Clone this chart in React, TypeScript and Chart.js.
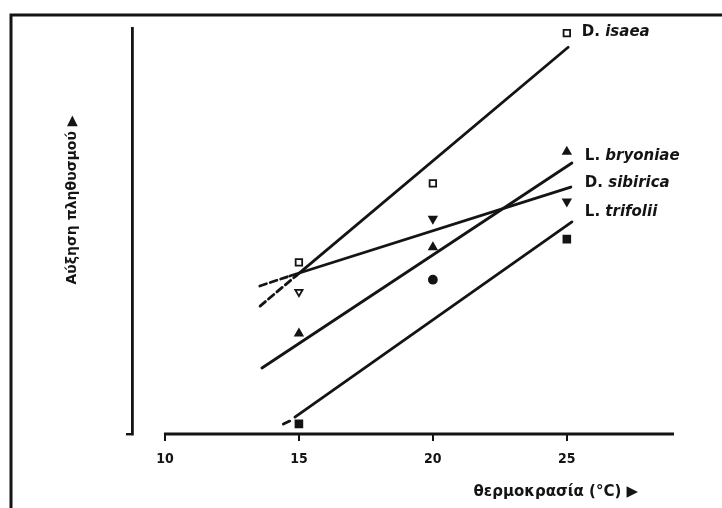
import React, { useEffect, useRef } from "react";
import { Chart, registerables } from "chart.js";

Chart.register(...registerables);

const INK = "#141414";

// temperatures (°C) at which the species were measured
const temps = [15, 20, 25];

// population increase (arbitrary units, 0 = x axis)
const isaeaValues = [16.9, 24.7, 39.5];
const bryoniaeValues = [9.9, 18.4, 27.8];
const sibiricaValues = [14.0, 21.2, 22.9];
const trifoliiValues = [1.0, 15.2, 19.2];

// fitted lines: [start, end] in x (°C) and y
const isaeaLineX = [14.9, 25.05];
const isaeaLineY = [15.6, 38.1];
const isaeaDashX = [13.55, 14.9];
const isaeaDashY = [12.6, 15.6];

const sibiricaLineX = [14.66, 25.15];
const sibiricaLineY = [15.57, 24.33];
const sibiricaDashX = [13.54, 14.66];
const sibiricaDashY = [14.58, 15.57];

const bryoniaeLineX = [13.62, 25.19];
const bryoniaeLineY = [6.5, 26.7];

const trifoliiLineX = [14.85, 25.19];
const trifoliiLineY = [1.67, 20.9];
const trifoliiDashX = [14.42, 14.72];
const trifoliiDashY = [0.98, 1.35];

// axis
const xTicks = [10, 15, 20, 25];
const xMin = 8.77;
const xMax = 29;
const yMin = 0;
const yMax = 40;

// species labels next to the line ends
const labelGenus = ["D.", "L.", "D.", "L."];
const labelSpecies = ["isaea", "bryoniae", "sibirica", "trifolii"];
const labelY = [39.6, 27.4, 24.7, 21.9];
const labelAtX = 25;

const xTitle = "θερμοκρασία (°C) ▶";
const yTitle = "Αύξηση πληθυσμού ▶";

const FONT = '"DejaVu Sans", "Noto Sans", sans-serif';
const TICK_FONT = '"DejaVu Sans Condensed", "Liberation Sans Narrow", "DejaVu Sans", sans-serif';

const pair = (xs: number[], ys: number[]) => xs.map((x, i) => ({ x, y: ys[i] }));

export default function App() {
  const ref = useRef<HTMLCanvasElement | null>(null);

  useEffect(() => {
    const canvas = ref.current;
    if (!canvas) return;

    const line = (xs: number[], ys: number[], dashed = false) => ({
      type: "scatter" as const,
      data: pair(xs, ys),
      showLine: true,
      borderColor: INK,
      borderWidth: 2.8,
      borderDash: dashed ? [7, 4] : [],
      borderCapStyle: "round" as const,
      pointRadius: 0,
      pointHoverRadius: 0,
      clip: false as const,
      order: 2,
    });

    const pts = (
      ys: number[],
      style: any,
      fill: any,
      radius: any,
      rotation = 0
    ) => ({
      type: "scatter" as const,
      data: pair(temps, ys),
      showLine: false,
      pointStyle: style,
      pointBackgroundColor: fill,
      pointBorderColor: INK,
      pointBorderWidth: 1.8,
      pointRadius: radius,
      pointRotation: rotation,
      clip: false as const,
      order: 1,
    });

    const decor = {
      id: "decor",
      beforeDraw(chart: any) {
        const { ctx } = chart;
        ctx.save();
        ctx.fillStyle = "#ffffff";
        ctx.fillRect(0, 0, chart.width, chart.height);
        ctx.strokeStyle = INK;
        ctx.lineWidth = 3;
        ctx.beginPath();
        ctx.moveTo(11, chart.height);
        ctx.lineTo(11, 15);
        ctx.lineTo(chart.width, 15);
        ctx.stroke();
        ctx.restore();
      },
      afterDraw(chart: any) {
        const { ctx, chartArea } = chart;
        const x = chart.scales.x;
        const y = chart.scales.y;
        ctx.save();
        // x axis line
        const y0 = y.getPixelForValue(0);
        ctx.strokeStyle = INK;
        ctx.lineWidth = 2.8;
        ctx.beginPath();
        ctx.moveTo(x.getPixelForValue(xTicks[0]) - 1, y0);
        ctx.lineTo(x.getPixelForValue(xMax), y0);
        ctx.stroke();

        // species labels
        ctx.fillStyle = INK;
        ctx.textBaseline = "middle";
        ctx.textAlign = "left";
        labelGenus.forEach((g, i) => {
          const px = x.getPixelForValue(labelAtX) + (i === 0 ? 15 : 18);
          const py = y.getPixelForValue(labelY[i]);
          ctx.font = `bold 15px ${FONT}`;
          const gText = g + " ";
          ctx.fillText(gText, px, py);
          const w = ctx.measureText(gText).width;
          ctx.font = `italic bold 15px ${FONT}`;
          ctx.fillText(labelSpecies[i], px + w, py);
        });

        // x title
        ctx.font = `bold 15px ${FONT}`;
        ctx.textAlign = "right";
        ctx.fillText(xTitle, chartArea.right - 36, chartArea.bottom + 58);

        // y title (rotated)
        ctx.translate(chartArea.left - 60, chartArea.top + 172);
        ctx.rotate(-Math.PI / 2);
        ctx.textAlign = "center";
        ctx.font = `bold 14px ${FONT}`;
        ctx.fillText(yTitle, 0, 0);
        ctx.restore();
      },
    };

    const chart = new Chart(canvas, {
      type: "scatter",
      data: {
        datasets: [
          pts(isaeaValues, "rect", "#ffffff", 4.6),
          pts(bryoniaeValues, "triangle", INK, 4.2),
          pts(sibiricaValues, "triangle", ["#ffffff", INK, INK], 4.2, 180),
          pts(trifoliiValues, ["rect", "circle", "rect"], INK, [4.8, 4, 4.8]),
          line(isaeaLineX, isaeaLineY),
          line(isaeaDashX, isaeaDashY, true),
          line(sibiricaLineX, sibiricaLineY),
          line(sibiricaDashX, sibiricaDashY, true),
          line(bryoniaeLineX, bryoniaeLineY),
          line(trifoliiLineX, trifoliiLineY),
          line(trifoliiDashX, trifoliiDashY, true),
        ] as any,
      },
      options: {
        responsive: false,
        animation: false,
        events: [],
        layout: { padding: { left: 126, top: 28, right: 48, bottom: 0 } },
        plugins: {
          legend: { display: false },
          tooltip: { enabled: false },
          title: { display: false },
        },
        scales: {
          x: {
            type: "linear",
            min: xMin,
            max: xMax,
            afterBuildTicks: (s: any) => {
              s.ticks = xTicks.map((v) => ({ value: v }));
            },
            afterFit: (s: any) => {
              s.height = 74;
            },
            border: { display: false },
            grid: {
              drawOnChartArea: false,
              drawTicks: true,
              tickLength: 7,
              color: INK,
              lineWidth: 2,
            },
            ticks: {
              color: INK,
              padding: 10,
              font: { family: TICK_FONT, size: 14, weight: "bold" },
              callback: (v: any) => String(v),
            },
          },
          y: {
            type: "linear",
            min: yMin,
            max: yMax,
            afterBuildTicks: (s: any) => {
              s.ticks = [{ value: 0 }];
            },
            afterFit: (s: any) => {
              s.width = 6;
            },
            border: { display: true, color: INK, width: 2.8 },
            grid: {
              drawOnChartArea: false,
              drawTicks: true,
              tickLength: 6,
              color: INK,
              lineWidth: 2.4,
            },
            ticks: { display: false },
          },
        },
      },
      plugins: [decor],
    } as any);

    return () => chart.destroy();
  }, []);

  return (
    <div style={{ position: "absolute", left: 0, top: 0, width: 722, height: 508 }}>
      <canvas ref={ref} width={722} height={508} style={{ display: "block", width: 722, height: 508 }} />
    </div>
  );
}
